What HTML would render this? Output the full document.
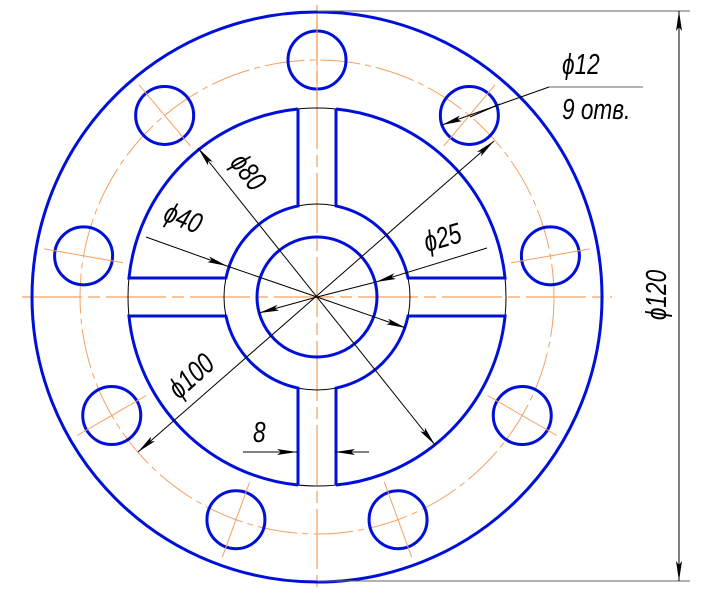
<!DOCTYPE html>
<html><head><meta charset="utf-8"><style>
html,body{margin:0;padding:0;background:#fff}
svg{display:block}
text{font-family:"Liberation Sans",sans-serif;font-style:italic;fill:#000}
</style></head><body>
<svg id="d" width="710" height="598" viewBox="0 0 710 598" xmlns="http://www.w3.org/2000/svg">
<defs>
<marker id="ar" viewBox="0 0 20 6" refX="20" refY="3" markerWidth="20" markerHeight="6" markerUnits="userSpaceOnUse" orient="auto-start-reverse"><path d="M0,0 L20,3 L0,6 L4,3 Z" fill="#000"/></marker>
</defs>
<g id="center-lines" stroke="#f5b07a" stroke-width="1.5" stroke-dasharray="60,6,12,6">
<line x1="22" y1="297" x2="612" y2="297"/>
<line x1="317" y1="5" x2="317" y2="590"/>
</g>
<circle cx="317" cy="297" r="237" fill="none" stroke="#f5a060" stroke-width="1" stroke-dasharray="40,5,6,5"/>
<circle cx="317" cy="297" r="285" fill="none" stroke="#0010d8" stroke-width="3"/>
<circle cx="317" cy="297" r="189" fill="none" stroke="#000" stroke-width="1"/>
<circle cx="317" cy="297" r="93" fill="none" stroke="#000" stroke-width="1"/>
<circle cx="317" cy="297" r="60" fill="none" stroke="#0010d8" stroke-width="3"/>
<g id="holes"></g>
<g id="quads"></g>
<g stroke="#000" stroke-width="1" fill="none">
<line x1="317" y1="11" x2="690" y2="11" stroke="#666"/>
<line x1="317" y1="581" x2="690" y2="581" stroke="#666"/>
<line x1="679" y1="11" x2="679" y2="581" marker-start="url(#ar)" marker-end="url(#ar)"/>
<line x1="138" y1="452" x2="494" y2="141" marker-start="url(#ar)" marker-end="url(#ar)"/>
<line x1="198" y1="148" x2="435" y2="445" marker-start="url(#ar)" marker-end="url(#ar)"/>
<line x1="146" y1="237" x2="227" y2="266" marker-end="url(#ar)"/>
<line x1="317" y1="297" x2="406" y2="328" marker-end="url(#ar)"/>
<line x1="227" y1="266" x2="317" y2="297"/>
<line x1="487" y1="248" x2="376" y2="282" marker-end="url(#ar)"/>
<line x1="376" y1="282" x2="317" y2="297"/>
<line x1="317" y1="297" x2="259" y2="313" marker-end="url(#ar)"/>
<line x1="243" y1="452" x2="297" y2="452" marker-end="url(#ar)"/>
<line x1="369" y1="452" x2="335" y2="452" marker-end="url(#ar)"/>
<line x1="549" y1="87" x2="442" y2="125" marker-end="url(#ar)"/>
<line x1="549" y1="87" x2="643" y2="87" stroke="#666"/>
<line x1="500" y1="104" x2="470" y2="117"/>
</g>
<text font-size="29" transform="translate(562,74) scale(0.78,1)">ϕ12</text>
<text font-size="29" transform="translate(562,119) scale(0.78,1)">9 отв.</text>
<text font-size="29" text-anchor="middle" transform="translate(666,295) rotate(-90) scale(0.78,1)">ϕ120</text>
<text font-size="29" transform="translate(229,163) rotate(52) scale(0.78,1)">ϕ80</text>
<text font-size="29" transform="translate(162,220) rotate(22) scale(0.78,1)">ϕ40</text>
<text font-size="29" transform="translate(427,252) rotate(-16) scale(0.78,1)">ϕ25</text>
<text font-size="29" transform="translate(179,400) rotate(-42) scale(0.78,1)">ϕ100</text>
<text font-size="29" transform="translate(253,442) scale(0.78,1)">8</text>
</svg>
<script>
const holeAngles=[90,50,10,-30,-70,-110,-150,170,130];
const cx=317,cy=297,boltR=237,holeR=29;
const NS="http://www.w3.org/2000/svg";
const hg=document.getElementById('holes');
holeAngles.forEach(a=>{
  const t=a*Math.PI/180,x=cx+boltR*Math.cos(t),y=cy-boltR*Math.sin(t);
  const c=document.createElementNS(NS,'circle');
  
  
  c.setAttribute('cx',x);c.setAttribute('cy',y);c.setAttribute('r',holeR);
  c.setAttribute('fill','none');c.setAttribute('stroke','#0010d8');c.setAttribute('stroke-width','3');
  hg.appendChild(c);
  const ux=Math.cos(t),uy=-Math.sin(t);
  const l=document.createElementNS(NS,'line');
  
  
  l.setAttribute('x1',x-40*ux);l.setAttribute('y1',y-40*uy);l.setAttribute('x2',x+40*ux);l.setAttribute('y2',y+40*uy);
  l.setAttribute('stroke','#f5a060');l.setAttribute('stroke-width','1');
  hg.appendChild(l);
});
const qg=document.getElementById('quads');
const h=19,Ro=189,Ri=93;
const a=Math.sqrt(Ro*Ro-h*h),b=Math.sqrt(Ri*Ri-h*h);
[[1,-1],[-1,-1],[-1,1],[1,1]].forEach(([sx,sy])=>{
  const sw1=(sx*sy<0)?1:0, sw2=1-sw1;
  const d=`M${cx+sx*h},${cy+sy*a} L${cx+sx*h},${cy+sy*b} A${Ri},${Ri} 0 0 ${sw1} ${cx+sx*b},${cy+sy*h} L${cx+sx*a},${cy+sy*h} A${Ro},${Ro} 0 0 ${sw2} ${cx+sx*h},${cy+sy*a}`;
  const p=document.createElementNS(NS,'path');
  
  
  p.setAttribute('d',d);p.setAttribute('fill','none');p.setAttribute('stroke','#0010d8');p.setAttribute('stroke-width','3');
  qg.appendChild(p);
});
</script>
</body></html>
